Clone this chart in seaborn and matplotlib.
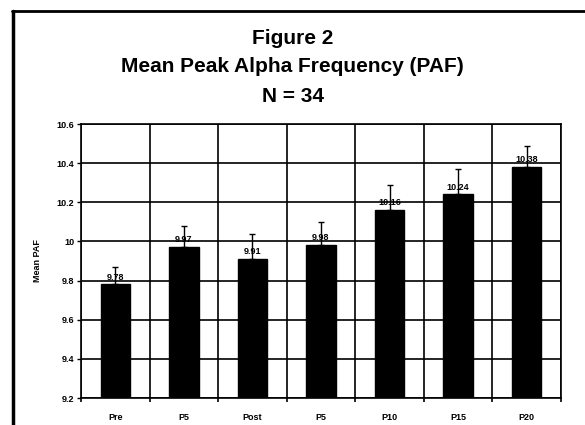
import matplotlib
matplotlib.use("Agg")
import matplotlib.pyplot as plt
from matplotlib.lines import Line2D
from matplotlib.ticker import FixedLocator
import numpy as np
import pandas as pd
import seaborn as sns

# values
labels = ["Pre", "P5", "Post", "P5", "P10", "P15", "P20"]
means = [9.78, 9.97, 9.91, 9.98, 10.16, 10.24, 10.38]
errors = [0.09, 0.11, 0.13, 0.12, 0.13, 0.13, 0.11]
value_text = ["9.78", "9.97", "9.91", "9.98", "10.16", "10.24", "10.38"]
y_ticks = [9.2, 9.4, 9.6, 9.8, 10.0, 10.2, 10.4, 10.6]
y_tick_text = ["9.2", "9.4", "9.6", "9.8", "10", "10.2", "10.4", "10.6"]

sns.set_theme(style="white")
plt.rcParams["font.family"] = ["Liberation Sans", "DejaVu Sans"]
plt.rcParams.update({"text.color": "black", "axes.labelcolor": "black",
                     "xtick.color": "black", "ytick.color": "black"})

df = pd.DataFrame({"slot": [str(i) for i in range(len(labels))], "mean": means})

fig = plt.figure(figsize=(5.85, 4.25), dpi=100)
ax = fig.add_axes([81 / 585, 1 - 398 / 425, 480 / 585, 274 / 425])

sns.barplot(data=df, x="slot", y="mean", color="black", width=0.43,
            errorbar=None, ax=ax, zorder=3)
for p in ax.patches:
    p.set_facecolor("black")
    p.set_edgecolor("black")
    # bars start at the axis floor
    p.set_y(9.2)
    p.set_height(p.get_height() - 9.2)

x = np.arange(len(labels))
ax.errorbar(x, means, yerr=[np.zeros(len(errors)), errors], fmt="none",
            ecolor="black", elinewidth=1.0, capsize=2.5, capthick=1.0, zorder=4)
for xi, m, t in zip(x, means, value_text):
    ax.text(xi, m + 0.015, t, ha="center", va="bottom", fontsize=6.5,
            fontweight="bold", color="black", zorder=5)

ax.set_ylim(9.2, 10.6)
ax.set_xlim(-0.5, len(labels) - 0.5)
ax.set_yticks(y_ticks)
ax.set_yticklabels(y_tick_text, fontsize=6.5, fontweight="bold")
ax.set_xticks(x)
ax.set_xticklabels(labels, fontsize=6.5, fontweight="bold")
ax.xaxis.set_minor_locator(FixedLocator(np.arange(-0.5, len(labels), 1.0)))
ax.tick_params(axis="x", which="major", length=0, pad=11)
ax.tick_params(axis="x", which="minor", length=3, width=1.2, color="black",
               direction="out", bottom=True)
ax.tick_params(axis="y", which="major", length=3, width=1, color="black",
               direction="out", left=True, pad=2)
ax.grid(False)
ax.yaxis.grid(True, which="major", color="black", linewidth=1.2, zorder=0)
ax.xaxis.grid(True, which="minor", color="black", linewidth=1.2, zorder=0)
ax.set_axisbelow(True)
for s in ax.spines.values():
    s.set_color("black")
    s.set_linewidth(1.2)
ax.set_xlabel("")
ax.set_ylabel("Mean PAF", fontsize=6.5, fontweight="bold", labelpad=10)

fig.text(0.5, 1 - 38 / 425, "Figure 2", ha="center", va="center",
         fontsize=15, fontweight="bold", color="black")
fig.text(0.5, 1 - 67 / 425, "Mean Peak Alpha Frequency (PAF)", ha="center",
         va="center", fontsize=15, fontweight="bold", color="black")
fig.text(0.5, 1 - 96 / 425, "N = 34", ha="center", va="center",
         fontsize=15, fontweight="bold", color="black")

# outer frame of the scanned chart: top and left edges only
fig.add_artist(Line2D([12 / 585, 1.0], [1 - 11 / 425, 1 - 11 / 425],
                      transform=fig.transFigure, color="black", linewidth=2))
fig.add_artist(Line2D([13 / 585, 13 / 585], [0.0, 1 - 11 / 425],
                      transform=fig.transFigure, color="black", linewidth=2.5))

fig.savefig("out.png", dpi=100)
